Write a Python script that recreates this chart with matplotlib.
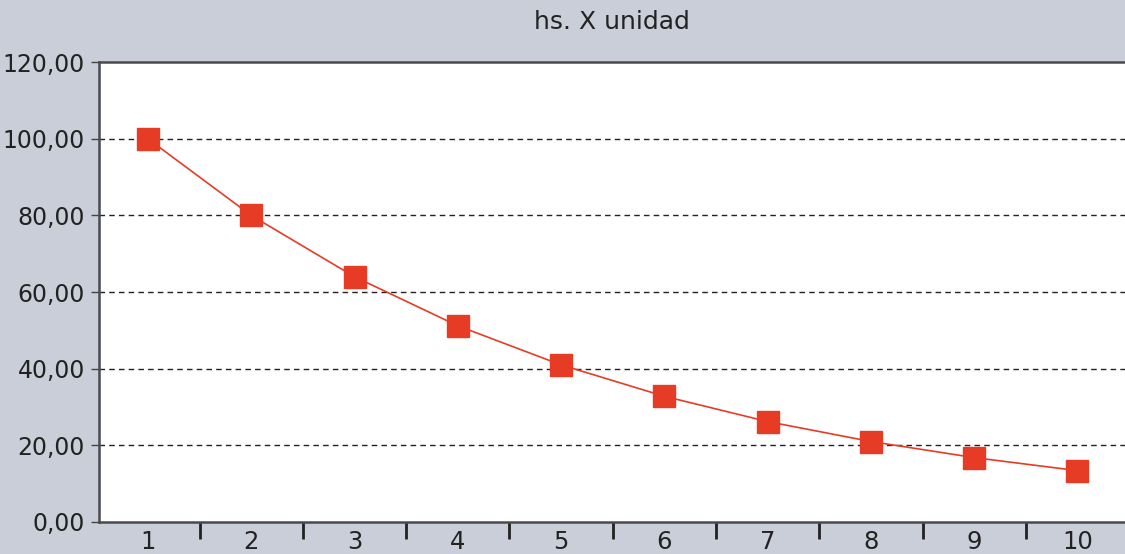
import matplotlib.pyplot as plt
from matplotlib.ticker import FuncFormatter, FixedLocator

# Data
units = [1, 2, 3, 4, 5, 6, 7, 8, 9, 10]
hours = [100.0, 80.0, 64.0, 51.2, 41.0, 32.8, 26.2, 21.0, 16.8, 13.4]
y_ticks = [0, 20, 40, 60, 80, 100, 120]

bg = "#c9ced8"
red = "#e63c25"

fig = plt.figure(figsize=(11.25, 5.54), dpi=100, facecolor=bg)
ax = fig.add_axes([0.088, 0.0578, 0.912, 0.830])
ax.set_facecolor("white")

ax.plot(units, hours, color=red, lw=1.2, marker="s", markersize=15.5,
        markerfacecolor=red, markeredgecolor=red, zorder=3)

ax.set_xlim(0.526, 10.46)
ax.set_ylim(0, 120)

ax.set_yticks(y_ticks)
ax.yaxis.set_major_formatter(FuncFormatter(lambda v, p: f"{v:.2f}".replace(".", ",")))
for y in y_ticks[1:-1]:
    ax.axhline(y, color="#222222", lw=1.0, ls=(0, (4, 3)), zorder=1)

ax.set_xticks(units)
ax.set_xticklabels([str(u) for u in units])
ax.xaxis.set_minor_locator(FixedLocator([u + 0.5 for u in units[:-1]]))
ax.tick_params(axis="x", which="major", length=0, pad=6, labelsize=17.5, labelcolor="#222222")
ax.tick_params(axis="x", which="minor", length=12, width=2, color="#222222", direction="out")
ax.tick_params(axis="y", length=6, width=1, color="#444444", pad=4, labelsize=17, labelcolor="#222222")

for s in ["left", "top", "bottom"]:
    ax.spines[s].set_color("#4a4a4a")
    ax.spines[s].set_linewidth(1.8)
ax.spines["right"].set_visible(False)

fig.text(0.544, 0.96, "hs. X unidad", ha="center", va="center", fontsize=18, color="#222222")

fig.savefig("out.png", dpi=100, facecolor=bg)
